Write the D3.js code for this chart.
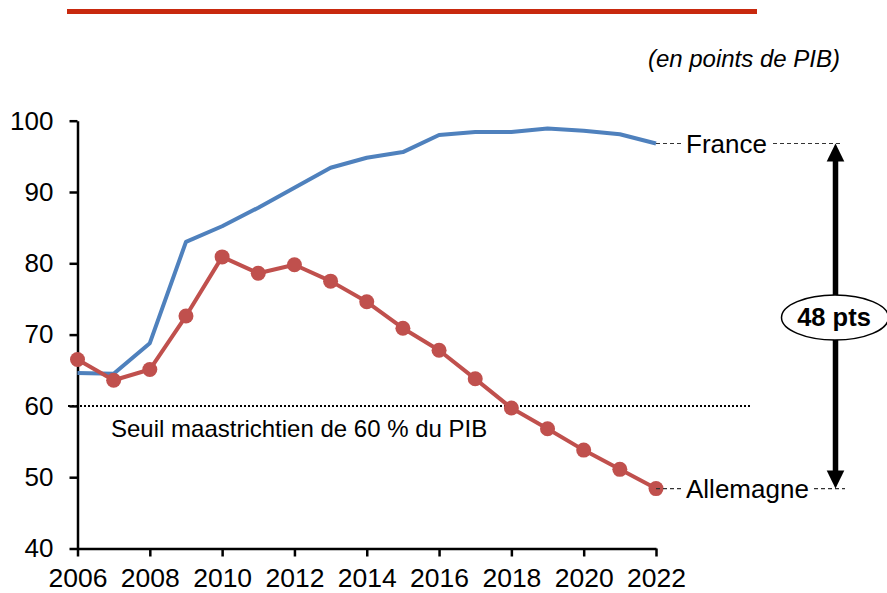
<!DOCTYPE html>
<html>
<head>
<meta charset="utf-8">
<script src="https://cdn.jsdelivr.net/npm/d3@7"></script>
<style>
  body { margin: 0; background: #fff; }
  svg { display: block; font-family: "Liberation Sans", Arial, sans-serif; }
</style>
</head>
<body>
<svg id="chart" width="887" height="593"></svg>
<script>
// data (debt, points of GDP)
var years   = [2006,2007,2008,2009,2010,2011,2012,2013,2014,2015,2016,2017,2018,2019,2020,2021,2022];
var france  = [64.6,64.5,68.8,83.0,85.2,87.8,90.6,93.4,94.8,95.6,98.0,98.4,98.4,98.9,98.6,98.1,96.8];
var germany = [66.5,63.6,65.1,72.6,80.9,78.6,79.8,77.5,74.6,70.9,67.8,63.8,59.7,56.8,53.8,51.1,48.4];
var xTicks  = [2006,2008,2010,2012,2014,2016,2018,2020,2022];
var yTicks  = [40,50,60,70,80,90,100];
var threshold = 60;
var gapLabel = "48 pts";

var W = 887, H = 593;
var m = {left: 77.5, right: 231, top: 120.7, bottom: 44.5};
var blue = "#4f81bd", red = "#c0504d";

var svg = d3.select("#chart");

var x = d3.scaleLinear().domain([2006, 2022]).range([m.left, W - m.right]);
var y = d3.scaleLinear().domain([40, 100]).range([H - m.bottom, m.top]);

// red bar on top
svg.append("rect").attr("x", 67).attr("y", 9).attr("width", 690).attr("height", 5).attr("fill", "#c8290e");

svg.append("text").attr("x", 840).attr("y", 67).attr("text-anchor", "end")
   .attr("font-style", "italic").attr("font-size", 24).text("(en points de PIB)");

// axes
var xAxis = svg.append("g").attr("transform", "translate(0," + y(40) + ")")
   .call(d3.axisBottom(x).tickValues(xTicks).tickFormat(d3.format("d")).tickSize(8).tickSizeOuter(0).tickPadding(12));
var yAxis = svg.append("g").attr("transform", "translate(" + x(2006) + ",0)")
   .call(d3.axisLeft(y).tickValues(yTicks).tickSize(8).tickSizeOuter(0).tickPadding(16));

[xAxis, yAxis].forEach(function(g){
  g.selectAll("path, line").attr("stroke", "#000").attr("stroke-width", 2.5);
  g.selectAll("text").attr("fill", "#000").attr("font-family", "Liberation Sans, Arial, sans-serif");
});
xAxis.selectAll("text").attr("font-size", 26.5);
yAxis.selectAll("text").attr("font-size", 26);

// 60% threshold
svg.append("line").attr("x1", 68).attr("x2", 752).attr("y1", y(threshold)).attr("y2", y(threshold))
   .attr("stroke", "#000").attr("stroke-width", 2).attr("stroke-dasharray", "2,2");
svg.append("text").attr("x", 111).attr("y", 437).attr("font-size", 24)
   .text("Seuil maastrichtien de 60 % du PIB");

var line = d3.line().x(function(d, i){ return x(years[i]); }).y(function(d){ return y(d); });

svg.append("path").datum(france).attr("d", line).attr("fill", "none")
   .attr("stroke", blue).attr("stroke-width", 4).attr("stroke-linejoin", "round");
svg.append("path").datum(germany).attr("d", line).attr("fill", "none")
   .attr("stroke", red).attr("stroke-width", 4).attr("stroke-linejoin", "round");
svg.selectAll("circle.de").data(germany).enter().append("circle").attr("class", "de")
   .attr("cx", function(d, i){ return x(years[i]); }).attr("cy", function(d){ return y(d); })
   .attr("r", 7.5).attr("fill", red);

// end labels with dashed leaders
var last = years.length - 1;
var labels = [
  {name: "France", v: france[last], tx: 686, end: 773, arrowX: 843},
  {name: "Allemagne", v: germany[last], tx: 686, end: 814, arrowX: 845}
];
labels.forEach(function(l){
  var yy = y(l.v);
  svg.append("line").attr("x1", x(2022)).attr("x2", l.tx - 4).attr("y1", yy).attr("y2", yy)
     .attr("stroke", "#333").attr("stroke-width", 1.2).attr("stroke-dasharray", "4,3");
  svg.append("line").attr("x1", l.end).attr("x2", l.arrowX).attr("y1", yy).attr("y2", yy)
     .attr("stroke", "#333").attr("stroke-width", 1.2).attr("stroke-dasharray", "4,3");
  svg.append("text").attr("x", l.tx).attr("y", yy).attr("dy", "0.35em").attr("font-size", 26).text(l.name);
});

// double arrow
var ax = 835.5, yTop = y(france[last]), yBot = y(germany[last]);
svg.append("line").attr("x1", ax).attr("x2", ax).attr("y1", yTop + 15).attr("y2", yBot - 15)
   .attr("stroke", "#000").attr("stroke-width", 5.5);
svg.append("path").attr("d", "M" + ax + "," + yTop + "L" + (ax - 8.8) + "," + (yTop + 18) + "L" + (ax + 8.8) + "," + (yTop + 18) + "Z").attr("fill", "#000");
svg.append("path").attr("d", "M" + ax + "," + yBot + "L" + (ax - 8.8) + "," + (yBot - 18) + "L" + (ax + 8.8) + "," + (yBot - 18) + "Z").attr("fill", "#000");

svg.append("ellipse").attr("cx", 835).attr("cy", 317.5).attr("rx", 53.5).attr("ry", 22.5)
   .attr("fill", "#fff").attr("stroke", "#000").attr("stroke-width", 1.5);
svg.append("text").attr("x", 834).attr("y", 317.5).attr("dy", "0.35em").attr("text-anchor", "middle")
   .attr("font-size", 25.5).attr("font-weight", "bold").text(gapLabel);
</script>
</body>
</html>
